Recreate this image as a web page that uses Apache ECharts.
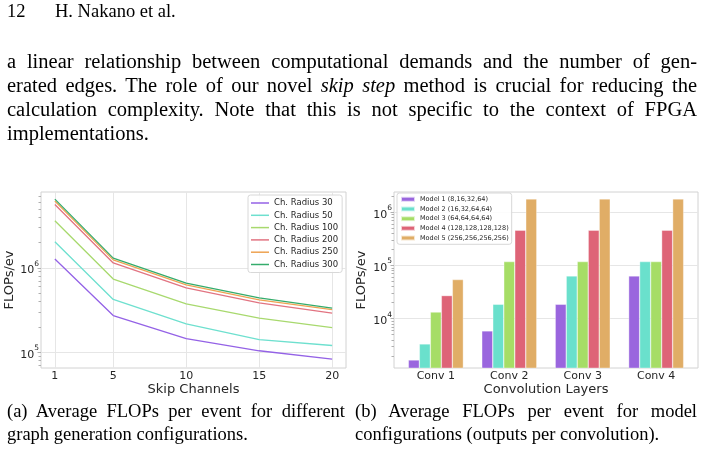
<!DOCTYPE html>
<html>
<head>
<meta charset="utf-8">
<script src="https://cdn.jsdelivr.net/npm/echarts@6/dist/echarts.min.js"></script>
<style>
  body { margin: 0; background: #fff; }
  #page { position: relative; width: 705px; height: 453px; overflow: hidden; }
  #chart { position: absolute; left: 0; top: 0; width: 705px; height: 453px; }
  .txt { position: absolute; font-family: "Liberation Serif", "DejaVu Serif", serif; color: #000; white-space: nowrap; }
  .just { text-align: justify; text-align-last: justify; white-space: normal; }
</style>
</head>
<body>
<div id="page">
  <div id="chart"></div>
  <div class="txt" style="left:7px; top:1px; font-size:18.5px;">12</div>
  <div class="txt" style="left:55px; top:1px; font-size:18.5px;">H. Nakano et al.</div>

  <div class="txt just" style="left:7px; width:690px; top:50px; font-size:20.5px;">a linear relationship between computational demands and the number of gen-</div>
  <div class="txt just" style="left:7px; width:690px; top:74px; font-size:20.5px;">erated edges. The role of our novel <i>skip step</i> method is crucial for reducing the</div>
  <div class="txt just" style="left:7px; width:690px; top:98px; font-size:20.5px;">calculation complexity. Note that this is not specific to the context of FPGA</div>
  <div class="txt" style="left:7px; top:122px; font-size:20.5px;">implementations.</div>

  <div class="txt just" style="left:7px; width:338px; top:401px; font-size:18.5px;">(a) Average FLOPs per event for different</div>
  <div class="txt" style="left:7px; top:424px; font-size:18.5px;">graph generation configurations.</div>
  <div class="txt just" style="left:355px; width:342px; top:401px; font-size:18.5px;">(b) Average FLOPs per event for model</div>
  <div class="txt" style="left:355px; top:424px; font-size:18.5px;">configurations (outputs per convolution).</div>
</div>
<script>
// (a) FLOPs per event vs skip channels
var skipChannels = [1, 5, 10, 15, 20];
var radiusNames = ["Ch. Radius 30", "Ch. Radius 50", "Ch. Radius 100", "Ch. Radius 200", "Ch. Radius 250", "Ch. Radius 300"];
var radius30 = [1.27e6, 2.72e5, 1.45e5, 1.04e5, 8.3e4];
var radius50 = [2.03e6, 4.22e5, 2.17e5, 1.41e5, 1.2e5];
var radius100 = [3.6e6, 7.35e5, 3.74e5, 2.53e5, 1.96e5];
var radius200 = [5.63e6, 1.14e6, 5.79e5, 3.85e5, 2.9e5];
var radius250 = [6.17e6, 1.24e6, 6.28e5, 4.17e5, 3.2e5];
var radius300 = [6.5e6, 1.3e6, 6.58e5, 4.4e5, 3.32e5];
var lineColors = ["#9462e6", "#6ee0cf", "#a8d96e", "#e27482", "#eea352", "#35ac6c"];

// (b) FLOPs per event per convolution layer
var convLayers = ["Conv 1", "Conv 2", "Conv 3", "Conv 4"];
var modelNames = ["Model 1 (8,16,32,64)", "Model 2 (16,32,64,64)", "Model 3 (64,64,64,64)", "Model 4 (128,128,128,128)", "Model 5 (256,256,256,256)"];
var model1 = [1670, 5870, 1.86e4, 6.35e4];
var model2 = [3340, 1.86e4, 6.35e4, 1.18e5];
var model3 = [1.33e4, 1.18e5, 1.18e5, 1.18e5];
var model4 = [2.71e4, 4.58e5, 4.58e5, 4.58e5];
var model5 = [5.42e4, 1.78e6, 1.78e6, 1.78e6];
var barColors = ["#9a66de", "#6ae0cc", "#a6dd66", "#de6477", "#e0ad66"];

var majorA = [1e5, 1e6];
var minorA = [7e4, 8e4, 9e4, 2e5, 3e5, 4e5, 5e5, 6e5, 7e5, 8e5, 9e5, 2e6, 3e6, 4e6, 5e6, 6e6, 7e6];
var majorB = [1e4, 1e5, 1e6];
var minorB = [2e3, 3e3, 4e3, 5e3, 6e3, 7e3, 8e3, 9e3, 2e4, 3e4, 4e4, 5e4, 6e4, 7e4, 8e4, 9e4,
  2e5, 3e5, 4e5, 5e5, 6e5, 7e5, 8e5, 9e5, 2e6];

var font = "DejaVu Sans";
var ink = "#262626";

function powLabel(v) {
  return "{b|10}{s|" + Math.round(Math.log10(v)) + "}";
}
var powRich = {
  b: { fontSize: 11, fontFamily: font, color: ink, verticalAlign: "bottom", lineHeight: 16 },
  s: { fontSize: 7.5, fontFamily: font, color: ink, verticalAlign: "top", lineHeight: 16 }
};

function logAxis(gridIndex, min, max, major, minor, gap) {
  return [
    {
      type: "log", gridIndex: gridIndex, min: min, max: max,
      name: "FLOPs/ev", nameLocation: "middle", nameGap: gap,
      nameTextStyle: { fontSize: 13, fontFamily: font, color: ink },
      axisLine: { show: false, onZero: false },
      axisTick: { show: true, length: 3.5, customValues: major, lineStyle: { color: "#b0b0b0" } },
      axisLabel: { customValues: major, margin: 2, formatter: powLabel, rich: powRich },
      splitLine: { show: true, lineStyle: { color: "#e6e6e6", width: 1 } },
      minorTick: { show: false }
    },
    {
      type: "log", gridIndex: gridIndex, min: min, max: max, position: "left",
      axisLine: { show: false, onZero: false },
      axisTick: { show: true, length: 2.5, customValues: minor, lineStyle: { color: "#b0b0b0" } },
      axisLabel: { show: false },
      splitLine: { show: false }
    }
  ];
}

var myChart = echarts.init(document.getElementById("chart"));

var lineSeries = [radius30, radius50, radius100, radius200, radius250, radius300].map(function (vals, i) {
  return {
    name: radiusNames[i], type: "line", xAxisIndex: 0, yAxisIndex: 0,
    data: skipChannels.map(function (x, j) { return [x, vals[j]]; }),
    symbol: "none", lineStyle: { width: 1.3, color: lineColors[i] }, itemStyle: { color: lineColors[i] },
    z: 2 + i
  };
});

var barSeries = [model1, model2, model3, model4, model5].map(function (vals, i) {
  return {
    name: modelNames[i], type: "bar", xAxisIndex: 1, yAxisIndex: 2,
    data: convLayers.map(function (c, j) { return [j, vals[j]]; }),
    barWidth: 11, barGap: "0%",
    itemStyle: { color: barColors[i], borderColor: "rgba(255,255,255,0.7)", borderWidth: 0.5 }
  };
});

var option = {
  animation: false,
  textStyle: { fontFamily: font },
  grid: [
    { left: 41, top: 192, width: 305, height: 176, show: true, borderColor: "#d2d2d2", borderWidth: 1, backgroundColor: "#fff" },
    { left: 394, top: 192, width: 304, height: 176, show: true, borderColor: "#d2d2d2", borderWidth: 1, backgroundColor: "#fff" }
  ],
  xAxis: [
    {
      type: "value", gridIndex: 0, min: 0.05, max: 20.95,
      name: "Skip Channels", nameLocation: "middle", nameGap: 12,
      nameTextStyle: { fontSize: 13, fontFamily: font, color: ink, verticalAlign: "top" },
      axisLine: { show: false, onZero: false },
      axisTick: { show: false, customValues: skipChannels },
      axisLabel: { customValues: skipChannels, fontSize: 11, color: ink, margin: 3 },
      splitLine: { show: true, lineStyle: { color: "#e6e6e6", width: 1 } }
    },
    {
      type: "value", gridIndex: 1, min: -0.57, max: 3.57,
      name: "Convolution Layers", nameLocation: "middle", nameGap: 12,
      nameTextStyle: { fontSize: 13, fontFamily: font, color: ink, verticalAlign: "top" },
      axisLine: { show: false, onZero: false },
      axisTick: { show: false, customValues: [0, 1, 2, 3] },
      axisLabel: {
        customValues: [0, 1, 2, 3], fontSize: 11, color: ink, margin: 3,
        formatter: function (v) { return convLayers[Math.round(v)]; }
      },
      splitLine: { show: false }
    }
  ],
  yAxis: logAxis(0, 6.5e4, 7.9e6, majorA, minorA, 24).concat(logAxis(1, 1180, 2.4e6, majorB, minorB, 26)),
  legend: [
    {
      data: radiusNames, orient: "vertical", left: 248, top: 195,
      icon: "rect", itemWidth: 18, itemHeight: 1.5, itemGap: 2.3,
      padding: [3, 4, 3, 3],
      textStyle: { fontSize: 8.5, fontFamily: font, color: ink, lineHeight: 10 },
      backgroundColor: "rgba(255,255,255,0.85)", borderColor: "#d8d8d8", borderWidth: 1, borderRadius: 2.5
    },
    {
      data: modelNames, orient: "vertical", left: 397, top: 193,
      icon: "rect", itemWidth: 14, itemHeight: 5, itemGap: 2.2,
      padding: [2.5, 3, 2.5, 3],
      textStyle: { fontSize: 6.5, fontFamily: font, color: ink, lineHeight: 7.5 },
      backgroundColor: "rgba(255,255,255,0.85)", borderColor: "#d8d8d8", borderWidth: 1, borderRadius: 2.5
    }
  ],
  series: lineSeries.concat(barSeries)
};
myChart.setOption(option);
</script>
</body>
</html>
